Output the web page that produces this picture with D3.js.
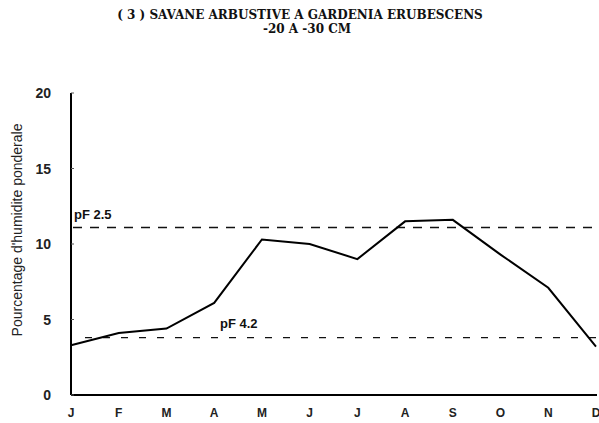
<!DOCTYPE html>
<meta charset="utf-8">
<html>
<head>
<title>Savane arbustive a Gardenia erubescens</title>
<script src="https://cdn.jsdelivr.net/npm/d3@7"></script>
<style>
body { margin: 0; background: #fff; }
.title { font: bold 12px "DejaVu Serif", "Liberation Serif", serif; fill: #111; }
.tick-lab { font: bold 14px "Liberation Sans", Arial, sans-serif; fill: #222; }
.month { font: bold 12px "Liberation Sans", Arial, sans-serif; fill: #222; }
.ylab { font: 14px "Liberation Sans", Arial, sans-serif; fill: #222; }
.pf { font: bold 13px "Liberation Sans", Arial, sans-serif; fill: #111; }
</style>
</head>
<body>
<div id="chart"></div>
<script>
// months and moisture values
var months = ["J", "F", "M", "A", "M", "J", "J", "A", "S", "O", "N", "D"];
var humidite = [3.3, 4.1, 4.4, 6.1, 10.3, 10.0, 9.0, 11.5, 11.6, 9.3, 7.1, 3.2];
var yTicks = [0, 5, 10, 15, 20];
var pfNames = ["pF 2.5", "pF 4.2"];
var pfValues = [11.1, 3.8];

var W = 599, H = 423;
var svg = d3.select("#chart").append("svg").attr("width", W).attr("height", H);

var x = d3.scaleLinear().domain([0, months.length - 1]).range([71, 596]);
var y = d3.scaleLinear().domain([0, 20]).range([395, 93]);

// title
svg.append("text").attr("class", "title").attr("x", 300).attr("y", 19)
    .attr("text-anchor", "middle")
    .text("( 3 )  SAVANE ARBUSTIVE A GARDENIA ERUBESCENS");
svg.append("text").attr("class", "title").attr("x", 307).attr("y", 33)
    .attr("text-anchor", "middle")
    .text("-20 A -30 CM");

// axes
svg.append("line").attr("x1", 71).attr("x2", 71).attr("y1", y(20)).attr("y2", y(0))
    .attr("stroke", "#000").attr("stroke-width", 2);
svg.append("line").attr("x1", 71).attr("x2", 597).attr("y1", y(0)).attr("y2", y(0))
    .attr("stroke", "#000").attr("stroke-width", 2);

svg.selectAll(".ytk").data(yTicks).enter().append("line")
    .attr("x1", 71).attr("x2", 74)
    .attr("y1", function (d) { return y(d); }).attr("y2", function (d) { return y(d); })
    .attr("stroke", "#555").attr("stroke-width", 1);

svg.selectAll(".tick-lab").data(yTicks).enter().append("text")
    .attr("class", "tick-lab")
    .attr("x", 51).attr("y", function (d) { return y(d) + 5; })
    .attr("text-anchor", "end")
    .text(function (d) { return d; });

svg.selectAll(".month").data(months).enter().append("text")
    .attr("class", "month")
    .attr("x", function (d, i) { return x(i); }).attr("y", 417)
    .attr("text-anchor", "middle")
    .text(function (d) { return d; });

svg.append("text").attr("class", "ylab")
    .attr("transform", "translate(22,230) rotate(-90)")
    .attr("text-anchor", "middle")
    .text("Pourcentage d'humidite ponderale");

// pF reference lines
svg.append("line").attr("x1", 73).attr("x2", 597)
    .attr("y1", y(pfValues[0])).attr("y2", y(pfValues[0]))
    .attr("stroke", "#111").attr("stroke-width", 1.5).attr("stroke-dasharray", "9,8");
svg.append("line").attr("x1", 85).attr("x2", 597)
    .attr("y1", y(pfValues[1])).attr("y2", y(pfValues[1]))
    .attr("stroke", "#111").attr("stroke-width", 1.2).attr("stroke-dasharray", "7,11");

svg.append("text").attr("class", "pf").attr("x", 74).attr("y", y(pfValues[0]) - 8).text(pfNames[0]);
svg.append("text").attr("class", "pf").attr("x", 220).attr("y", y(pfValues[1]) - 10).text(pfNames[1]);

// humidity curve
var line = d3.line()
    .x(function (d, i) { return x(i); })
    .y(function (d) { return y(d); });
svg.append("path").datum(humidite)
    .attr("d", line)
    .attr("fill", "none").attr("stroke", "#000").attr("stroke-width", 2);
</script>
</body>
</html>
